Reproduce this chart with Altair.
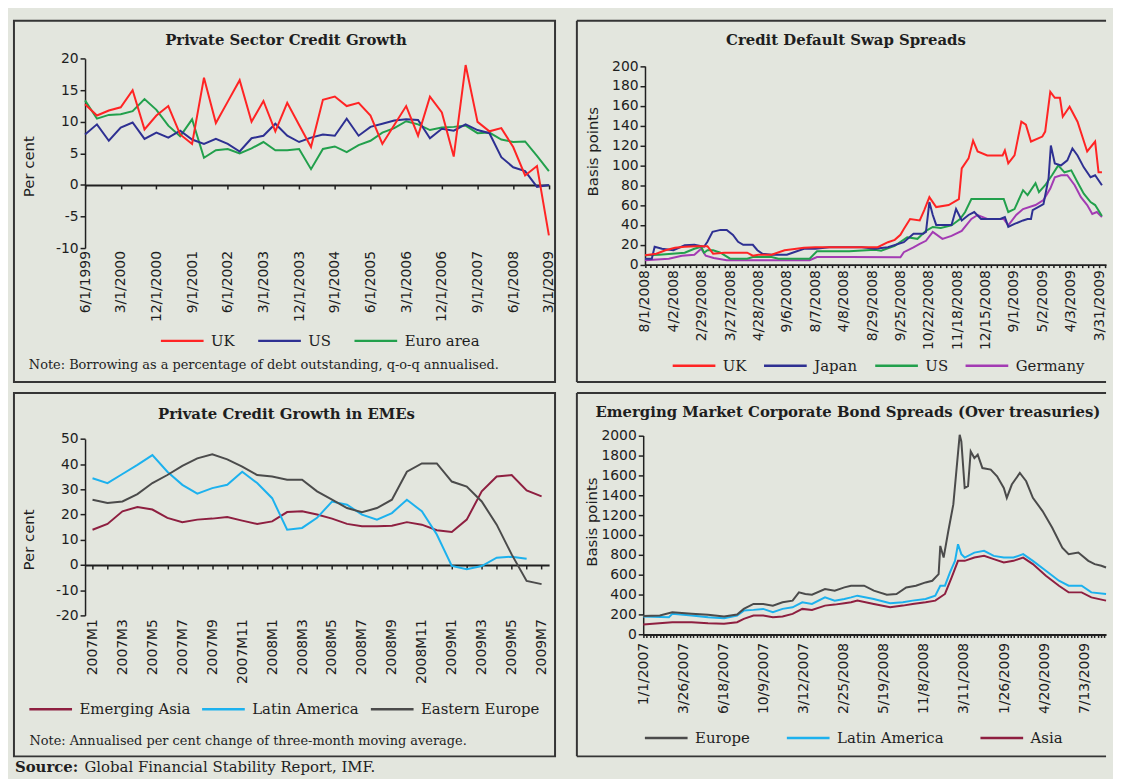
import json
import altair as alt
import pandas as pd

# ---------------- data ----------------
# Panel 1: Private Sector Credit Growth (quarterly, 6/1/1999 .. 3/1/2009)
p1_labels = ['6/1/1999', '3/1/2000', '12/1/2000', '9/1/2001', '6/1/2002', '3/1/2003', '12/1/2003',
             '9/1/2004', '6/1/2005', '3/1/2006', '12/1/2006', '9/1/2007', '6/1/2008', '3/1/2009']
p1_uk = [12.8, 11.0, 11.8, 12.3, 15.0, 8.8, 11.0, 12.5, 8.0, 6.5, 17.0, 9.8, 13.2, 16.6, 10.0, 13.3, 8.5, 13.0, 9.5, 6.0,
         13.5, 14.0, 12.5, 13.0, 11.0, 6.5, 9.5, 12.5, 7.8, 14.0, 11.5, 4.5, 19.0, 10.0, 8.5, 9.0, 6.0, 1.5, 3.0, -8.0]
p1_us = [8.0, 9.6, 7.0, 9.1, 9.9, 7.3, 8.3, 7.5, 8.6, 7.2, 6.5, 7.3, 6.5, 5.3, 7.4, 7.8, 9.7, 7.8, 6.8, 7.5,
         8.0, 7.8, 10.5, 7.8, 9.2, 9.7, 10.2, 10.4, 10.3, 7.4, 8.9, 8.6, 9.6, 8.7, 8.2, 4.4, 2.8, 2.2, -0.3, 0.0]
p1_euro = [13.4, 10.5, 11.1, 11.2, 11.7, 13.6, 11.9, 9.4, 7.7, 10.4, 4.3, 5.5, 5.7, 5.0, 5.8, 6.8, 5.5, 5.5, 5.7, 2.5,
           5.7, 6.1, 5.2, 6.3, 7.0, 8.3, 9.0, 10.1, 9.6, 8.7, 9.1, 9.2, 9.4, 8.2, 8.3, 7.2, 6.8, 6.9, 4.6, 2.2]

# Panel 2: Credit Default Swap Spreads (basis points); t = position along the axis (5 units per label)
cds_labels = ['8/1/2008', '4/2/2008', '2/29/2008', '3/27/2008', '4/28/2008', '9/6/2008', '8/7/2008', '4/8/2008',
              '8/29/2008', '9/25/2008', '10/22/2008', '11/18/2008', '12/15/2008', '9/1/2009', '5/2/2009',
              '4/3/2009', '3/31/2009']
cds_uk_t = [0, 2, 3.6, 5.3, 7, 9, 11, 12, 14, 16, 18, 19, 20, 22.3, 24.6, 26, 28, 30, 32, 34, 36, 38, 40, 41, 42.8,
            44, 45, 45.6, 46.7, 48.4, 49.2, 50.1, 51.3, 53.5, 55.3, 55.8, 57, 57.8, 58.6, 60.3, 62, 63, 63.4, 64,
            65.1, 66.3, 67.1, 68, 70, 70.5, 71.4, 72.2, 73.1, 73.6, 74.8, 76.2, 77.9, 79.3, 79.9, 80.5]
cds_uk = [9.5, 11, 14.5, 17, 18, 18.5, 18.5, 11, 12, 12, 12, 9, 10, 10, 14.5, 15.5, 17, 17.5, 17.5, 17.5, 17.5,
          17.5, 17.5, 17.5, 22.6, 25, 30, 36, 46, 44.5, 55, 68, 58, 60, 66, 97, 107, 125, 114, 110, 110, 110, 115,
          102, 110, 144, 141, 124, 129, 134, 174, 168, 168, 149, 159, 144, 114, 124, 93, 93]
cds_japan_t = [0, 1.2, 1.7, 3, 5, 7, 8.7, 10.4, 11, 11.9, 13.3, 14.4, 15.5, 16.4, 17.3, 19, 19.8, 20.7, 22.3, 25,
               28, 30, 32.5, 36, 38.2, 40.5, 42.8, 45.6, 47.3, 49, 49.5, 50.1, 50.7, 51.3, 53, 54, 54.8, 55.8, 57,
               58, 59.2, 62.6, 63.4, 64, 65.1, 66.6, 67.4, 68, 68.3, 70.2, 71.1, 71.5, 72.2, 73.3, 74.4, 75.3, 76.2,
               77.3, 78.5, 79.3, 80.5]
cds_japan = [6, 6, 18, 16, 14.5, 19.5, 20, 18, 23, 33, 35, 35, 30, 23, 20, 20, 14.5, 11, 10, 10, 16, 16, 17.5, 17.5,
             17.5, 16, 17.5, 22.6, 31, 31, 33, 63, 50, 40, 40, 40, 56, 44.5, 50, 53, 46, 46, 48, 38, 41, 44.5, 46,
             46, 55, 61, 87, 120, 102, 100, 105, 117, 110, 98, 88, 90, 80]
cds_us_t = [0, 2.5, 4.8, 7, 8.7, 9.9, 10.4, 11, 12, 13.3, 15, 18, 19, 22.3, 23.5, 29, 30.3, 31.3, 36, 40.5, 41.6,
            44, 46.2, 48, 49.5, 50.7, 52.1, 54, 55.5, 56.4, 57.5, 58.6, 63.2, 64, 65.1, 66.6, 67.4, 68.8, 69.4,
            70.5, 71.7, 72.8, 73.9, 75.1, 76.2, 77.3, 78.5, 79.3, 80.5]
cds_us = [9.4, 10, 11, 12, 16, 18, 12, 14.5, 14.5, 12, 6, 6, 7.7, 7.7, 6, 6, 13.5, 13.5, 13.5, 15, 14, 19, 27.6,
          26, 34, 38, 37, 39.5, 46, 53, 66, 66, 66, 53, 56, 75, 70, 82, 73, 80, 90, 100, 93, 95, 83, 71.5, 63, 60, 49]
cds_germany_t = [0, 4.2, 6.5, 8.7, 9.9, 10.7, 12.1, 14.4, 29, 30.3, 36, 45, 45.6, 47.3, 48.4, 49.5, 50.7, 52.4, 54,
                 55.8, 57.5, 58.6, 60.3, 63.2, 64, 65.4, 66.6, 68.8, 70.2, 71.4, 72.2, 73.3, 74.4, 75.7, 76.8,
                 77.9, 78.8, 79.6, 80.5]
cds_germany = [4.4, 6, 9, 10, 16, 9, 6.7, 4.4, 4.4, 7.7, 7.7, 7.4, 12.5, 17.5, 21, 24, 33, 26, 29, 34, 46, 50, 46,
               46, 39.5, 50, 56, 60, 65, 76.6, 88, 90, 90, 80, 68, 60, 51, 53, 48]

# Panel 3: Private Credit Growth in EMEs (monthly, 2007M1 .. 2009M7)
eme_labels = ['2007M1', '2007M3', '2007M5', '2007M7', '2007M9', '2007M11', '2008M1', '2008M3', '2008M5',
              '2008M7', '2008M9', '2008M11', '2009M1', '2009M3', '2009M5', '2009M7']
eme_asia = [14.0, 16.3, 21.3, 23.0, 22.0, 18.7, 17.0, 18.0, 18.4, 19.0, 17.6, 16.3, 17.3, 21.0, 21.3, 20.0, 18.4,
            16.3, 15.4, 15.4, 15.6, 17.0, 16.0, 13.8, 13.1, 18.0, 29.2, 35.1, 35.7, 29.6, 27.2]
eme_latam = [34.4, 32.5, 36.1, 39.7, 43.6, 37.0, 31.8, 28.3, 30.5, 31.8, 37.0, 32.5, 26.5, 14.0, 14.7, 18.7, 25.2,
             23.9, 20.0, 18.0, 20.6, 25.9, 21.3, 12.1, -0.4, -1.7, -0.4, 2.9, 3.3, 2.5]
eme_east = [25.9, 24.6, 25.2, 28.1, 32.5, 35.7, 39.3, 42.3, 43.9, 41.9, 39.0, 35.7, 35.1, 33.8, 33.8, 29.2, 25.9,
            22.6, 20.9, 22.6, 25.9, 37.0, 40.3, 40.3, 33.1, 31.1, 25.2, 16.0, 4.2, -6.3, -7.6]

# Panel 4: Emerging Market Corporate Bond Spreads (basis points); t = weeks from 1/1/2007
bond_labels = ['1/1/2007', '3/26/2007', '6/18/2007', '10/9/2007', '3/12/2007', '2/25/2008', '5/19/2008',
               '11/8/2008', '3/11/2008', '1/26/2009', '4/20/2009', '7/13/2009']
bond_europe_t = [0, 5, 8.7, 14.5, 19.4, 24.2, 28.1, 30.1, 33, 35.9, 38.8, 41.7, 44.7, 46.6, 48.5, 50.5, 54.4, 57.3,
                 60.2, 62.2, 64.1, 66.1, 69, 72.9, 75.8, 78.7, 81.6, 84.5, 86.5, 88.4, 88.9, 89.9, 91.3, 92.8,
                 93.7, 94.7, 95.2, 96.2, 97.2, 98, 99.1, 100.1, 101.5, 104, 105.9, 107.9, 108.8, 110.3, 112.7,
                 114.6, 116.6, 119.5, 122.4, 125.4, 127.3, 130.2, 133.2, 135.1, 137.1, 138.5]
bond_europe = [185, 190, 223, 207, 197, 180, 200, 257, 307, 307, 290, 323, 340, 423, 407, 400, 457, 440, 473, 490,
               490, 490, 440, 400, 407, 473, 490, 523, 540, 607, 890, 773, 1040, 1307, 1640, 2007, 1940, 1473,
               1490, 1840, 1773, 1807, 1673, 1657, 1590, 1473, 1373, 1507, 1623, 1540, 1373, 1240, 1073, 873,
               807, 823, 740, 707, 690, 673]
bond_latam_t = [0, 7.7, 8.7, 14.5, 19.4, 24.2, 28.1, 30.1, 33, 35.9, 38.8, 41.7, 44.7, 47.6, 50.5, 54.4, 57.3,
                60.2, 62.2, 64.1, 69, 73.9, 77.7, 80.6, 84.5, 87.4, 88.9, 90.3, 91.8, 93.3, 94.2, 95.2, 96.2, 99.1,
                102, 104.9, 107.9, 110.8, 113.7, 116.6, 120.5, 124.4, 127.3, 131.2, 134.1, 138.5]
bond_latam = [180, 173, 207, 190, 173, 163, 190, 240, 247, 257, 223, 257, 273, 323, 307, 373, 340, 357, 373, 390,
              357, 313, 323, 340, 357, 390, 490, 490, 623, 740, 907, 807, 773, 823, 840, 790, 773, 773, 807, 740,
              640, 540, 490, 490, 423, 407]
bond_asia_t = [0, 4.8, 8.7, 14.5, 19.4, 24.2, 28.1, 30.1, 33, 35.9, 38.8, 41.7, 44.7, 47.6, 50.5, 54.4, 57.3,
               60.2, 62.2, 64.1, 69, 73.9, 77.7, 80.6, 84.5, 87.4, 90.3, 92.3, 94.2, 96.2, 99.1, 102, 104.9, 107.9,
               110.8, 113.7, 116.6, 120.5, 124.4, 127.3, 131.2, 134.1, 138.5]
bond_asia = [100, 113, 123, 123, 113, 107, 123, 157, 190, 190, 173, 180, 207, 257, 247, 290, 300, 313, 323, 340,
             307, 273, 290, 307, 323, 340, 407, 573, 740, 740, 773, 790, 757, 723, 740, 773, 707, 590, 490, 423,
             423, 373, 340]

# ---------------- style ----------------
BG = "#e3e6de"
BORDER = "#353535"
TXT = "#1e1e1e"
AXC = "#202020"
SERIF = "DejaVu Serif"
SANS = "DejaVu Sans"
W1, W2 = 545, 533          # 5 + 545 + 22 + 533 = 1105 (page width minus margins)
H1, H2 = 364, 366


def text(t, x, y, size, weight="normal", font=SERIF, align="left", angle=0, baseline="alphabetic"):
    return alt.Chart(pd.DataFrame({"t": [t]})).mark_text(
        align=align, baseline=baseline, angle=angle, font=font, fontSize=size,
        fontWeight=weight, color=TXT
    ).encode(x=alt.value(x), y=alt.value(y), text="t:N")


def rule(x, x2, y, y2):
    return alt.Chart(pd.DataFrame({"k": [0]})).mark_rule(color=BORDER, strokeWidth=2).encode(
        x=alt.value(x), x2=alt.value(x2), y=alt.value(y), y2=alt.value(y2))


def legend(x, y, pad):
    return alt.Legend(orient="none", legendX=x, legendY=y, direction="horizontal", title=None,
                      symbolType="stroke", symbolSize=1849, symbolStrokeWidth=2.5,
                      labelFont=SERIF, labelFontSize=15, labelColor=TXT, labelOffset=6,
                      columnPadding=pad, padding=0, rowPadding=0)


def xaxis(values, labels, step, offset, lpad, tick):
    expr = f"datum.value % {step} == 0 ? {json.dumps(labels)}[datum.value / {step}] : ''"
    return alt.Axis(values=values, labelExpr=expr, labelAngle=270, labelPadding=lpad, tickSize=tick,
                    offset=offset, title=None, grid=False, labelFlush=False, labelOverlap=False,
                    domainWidth=2, tickWidth=1.5)


def yaxis(values, offset):
    return alt.Axis(values=values, labelExpr="datum.value + ''", offset=offset, title=None, grid=False,
                    tickSize=5, labelPadding=2, domainWidth=1.5, tickWidth=1.5)


def long_df(xs_list, vs_list, names):
    rows = []
    for xs, vs, n in zip(xs_list, vs_list, names):
        for a, b in zip(xs, vs):
            rows.append({"x": a, "v": b, "s": n})
    return pd.DataFrame(rows)


# ---------------- panel 1 ----------------
q = list(range(40))
df1 = long_df([q, q, q], [p1_euro, p1_us, p1_uk], ["Euro area", "US", "UK"])
y0_1 = 38.3 + 20 * (229 - 38.3) / 30
lines1 = alt.Chart(df1).mark_line(strokeWidth=2).encode(
    x=alt.X("x:Q", scale=alt.Scale(domain=[0, 39], range=[71.6, 538.8], nice=False, zero=False),
            axis=xaxis(list(range(0, 40, 3)), p1_labels, 3, y0_1 - H1, 62, 4)),
    y=alt.Y("v:Q", scale=alt.Scale(domain=[-10, 20], range=[229, 38.3], nice=False, zero=False),
            axis=yaxis([-10, -5, 0, 5, 10, 15, 20], -71.6)),
    color=alt.Color("s:N", scale=alt.Scale(domain=["UK", "US", "Euro area"],
                                           range=["#ff2424", "#2e3092", "#22a04c"]),
                    legend=legend(146.5, 299.5, 18)),
)
p1 = alt.layer(
    lines1,
    text("Private Sector Credit Growth", 274, 24, 15, "bold", align="center"),
    text("Per cent", 15.6, 147, 15, font=SANS, align="center", angle=270, baseline="middle"),
    text("Note: Borrowing as a percentage of debt outstanding, q-o-q annualised.", 15, 351, 13),
).properties(width=W1, height=H1)

# ---------------- panel 2 ----------------
df2 = long_df([cds_germany_t, cds_us_t, cds_japan_t, cds_uk_t],
              [cds_germany, cds_us, cds_japan, cds_uk], ["Germany", "US", "Japan", "UK"])
px2 = (526 - 68.6) / 80
lines2 = alt.Chart(df2).mark_line(strokeWidth=2).encode(
    x=alt.X("x:Q", scale=alt.Scale(domain=[0, (W2 - 68.6) / px2], range=[68.6, W2], nice=False, zero=False),
            axis=xaxis(list(range(0, 82)), cds_labels, 5, 245.7 - H1, 2, 3)),
    y=alt.Y("v:Q", scale=alt.Scale(domain=[0, 200], range=[245.7, 45.7], nice=False, zero=False),
            axis=yaxis(list(range(0, 201, 20)), -68.6)),
    color=alt.Color("s:N", scale=alt.Scale(domain=["UK", "Japan", "US", "Germany"],
                                           range=["#ff2424", "#2e3092", "#22a04c", "#a33bb3"]),
                    legend=legend(95, 324.5, 12)),
)
p2 = alt.layer(
    rule(0, W2, 0, 0), rule(0, 0, 0, H1), rule(0, W2, H1, H1),
    lines2,
    text("Credit Default Swap Spreads", 271, 24, 15, "bold", align="center"),
    text("Basis points", 16, 132, 15, font=SANS, align="center", angle=270, baseline="middle"),
).properties(width=W2, height=H1, view=alt.ViewBackground(stroke="transparent"))

# ---------------- panel 3 ----------------
m = list(range(31))
df3 = long_df([m, m[:30], m], [eme_asia, eme_latam, eme_east],
              ["Emerging Asia", "Latin America", "Eastern Europe"])
y0_3 = 46.3 + 50 * (224 - 46.3) / 70
lines3 = alt.Chart(df3).mark_line(strokeWidth=2).encode(
    x=alt.X("x:Q", scale=alt.Scale(domain=[-0.5, 30.5], range=[71.6, 539], nice=False, zero=False),
            axis=xaxis(list(range(0, 31)), eme_labels, 2, y0_3 - H2, 50, 4)),
    y=alt.Y("v:Q", scale=alt.Scale(domain=[-20, 50], range=[224, 46.3], nice=False, zero=False),
            axis=yaxis(list(range(-20, 51, 10)), -71.6)),
    color=alt.Color("s:N", scale=alt.Scale(domain=["Emerging Asia", "Latin America", "Eastern Europe"],
                                           range=["#8e1f40", "#1cb1ee", "#4b4b4b"]),
                    legend=legend(14, 295.5, 6)),
)
p3 = alt.layer(
    lines3,
    text("Private Credit Growth in EMEs", 274.5, 25.7, 15, "bold", align="center"),
    text("Per cent", 15.6, 148, 15, font=SANS, align="center", angle=270, baseline="middle"),
    text("Note: Annualised per cent change of three-month moving average.", 15.6, 355, 13),
    text("Source:", 1, 382, 15, "bold"),
    text("Global Financial Stability Report, IMF.", 71, 382, 15),
).properties(width=W1, height=H2)

# ---------------- panel 4 ----------------
df4 = long_df([bond_asia_t, bond_latam_t, bond_europe_t], [bond_asia, bond_latam, bond_europe],
              ["Asia", "Latin America", "Europe"])
lines4 = alt.Chart(df4).mark_line(strokeWidth=2).encode(
    x=alt.X("x:Q", scale=alt.Scale(domain=[0, 138.5], range=[66.8, W2], nice=False, zero=False),
            axis=xaxis(list(range(0, 139)), bond_labels, 12, 243.2 - H2, 5, 3)),
    y=alt.Y("v:Q", scale=alt.Scale(domain=[0, 2000], range=[243.2, 42.8], nice=False, zero=False),
            axis=yaxis(list(range(0, 2001, 200)), -66.8)),
    color=alt.Color("s:N", scale=alt.Scale(domain=["Europe", "Latin America", "Asia"],
                                           range=["#4b4b4b", "#1cb1ee", "#8e1f40"]),
                    legend=legend(67, 324.5, 31)),
)
p4 = alt.layer(
    rule(0, W2, 0, 0), rule(0, 0, 0, H2), rule(0, W2, H2, H2),
    lines4,
    text("Emerging Market Corporate Bond Spreads (Over treasuries)", 273, 24, 15, "bold", align="center"),
    text("Basis points", 15.7, 130, 15, font=SANS, align="center", angle=270, baseline="middle"),
).properties(width=W2, height=H2, view=alt.ViewBackground(stroke="transparent"))

chart = alt.concat(
    p1, p2, p3, p4, columns=2, spacing={"row": 11, "column": 22}, bounds="flush", align="each"
).properties(
    background=BG,
    padding={"left": 5, "top": 8, "right": 0, "bottom": 0},
).resolve_scale(color="independent", x="independent", y="independent").configure_view(
    stroke=BORDER, strokeWidth=2
).configure_axis(
    labelFont=SANS, labelFontSize=14, labelColor=TXT, tickColor=AXC, domainColor=AXC, grid=False
)

chart.save("out.html", embed_options={"renderer": "svg", "actions": False})
